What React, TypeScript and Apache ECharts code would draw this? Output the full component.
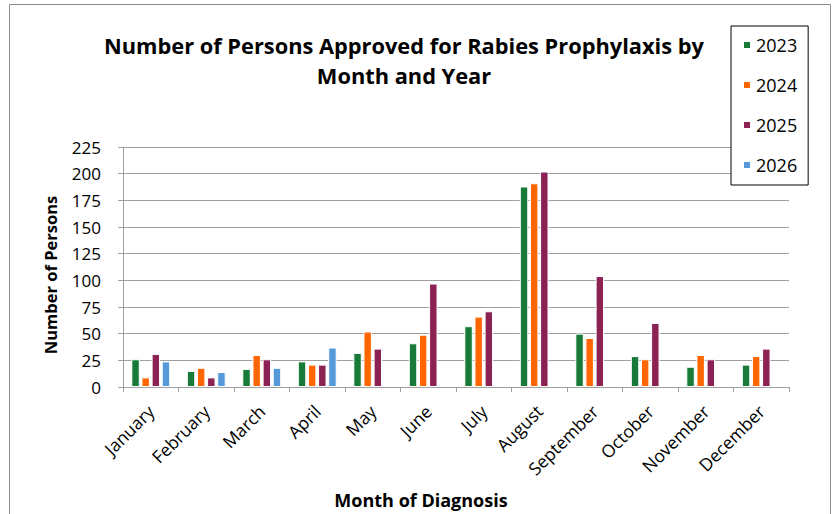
import React, { useEffect, useRef } from "react";
import * as echarts from "echarts";

const months = ["January", "February", "March", "April", "May", "June", "July", "August", "September", "October", "November", "December"];
const years = ["2023", "2024", "2025", "2026"];
const v2023 = [26, 15, 17, 24, 32, 41, 57, 188, 50, 29, 19, 21];
const v2024 = [9, 18, 30, 21, 52, 49, 66, 191, 46, 26, 30, 29];
const v2025 = [31, 9, 26, 21, 36, 97, 71, 202, 104, 60, 26, 36];
const v2026 = [24, 14, 18, 37, null, null, null, null, null, null, null, null];
const colors = ["#177A38", "#FF6600", "#8C2154", "#5599DB"];
const yTicks = { min: 0, max: 225, interval: 25 };

const FONT = "'Open Sans', 'Noto Sans', sans-serif";

export default function App() {
  const ref = useRef<HTMLDivElement>(null);
  useEffect(() => {
    document.body.style.margin = "0";
    const chart = echarts.init(ref.current!, null, { renderer: "svg" });
    const seriesData = [v2023, v2024, v2025, v2026];
    chart.setOption({
      animation: false,
      textStyle: { fontFamily: FONT },
      title: {
        text: "Number of Persons Approved for Rabies Prophylaxis by\nMonth and Year",
        left: 404,
        top: 30,
        textAlign: "center",
        padding: 0,
        textStyle: { fontFamily: FONT, fontSize: 21.8, fontWeight: "bold", color: "#000", lineHeight: 30 },
      },
      legend: {
        orient: "vertical",
        left: 731,
        top: 26,
        padding: [9, 11, 10, 11],
        itemGap: 20,
        itemWidth: 8,
        itemHeight: 8,
        borderColor: "#000",
        borderWidth: 1,
        backgroundColor: "#fff",
        icon: "rect",
        data: years,
        textStyle: { fontFamily: FONT, fontSize: 18, color: "#000", lineHeight: 20 },
      },
      grid: { left: 123, right: 47, top: 147, bottom: 127, containLabel: false },
      xAxis: {
        type: "category",
        data: months,
        axisLine: { lineStyle: { color: "#A0A0A0" } },
        axisTick: { show: true, length: 5, lineStyle: { color: "#A0A0A0" } },
        axisLabel: { rotate: 45, fontSize: 17.5, color: "#000", margin: 21, interval: 0, fontFamily: FONT },
      },
      yAxis: {
        type: "value",
        min: yTicks.min,
        max: yTicks.max,
        interval: yTicks.interval,
        axisLine: { show: true, lineStyle: { color: "#A0A0A0" } },
        axisTick: { show: true, length: 5, lineStyle: { color: "#A0A0A0" } },
        axisLabel: { fontSize: 17, color: "#000", margin: 22, fontFamily: FONT },
        splitLine: { lineStyle: { color: "#A0A0A0" } },
      },
      series: years.map((y, i) => ({
        name: y,
        type: "bar",
        data: seriesData[i],
        barCategoryGap: "30%",
        barGap: "20%",
        itemStyle: { color: colors[i], borderColor: "#fff", borderWidth: 1 },
      })),
      graphic: [
        {
          type: "rect",
          shape: { x: 9.5, y: 4.5, width: 821, height: 530 },
          style: { fill: "none", stroke: "#8C8C8C", lineWidth: 1 },
          z: -10,
        },
        {
          type: "text",
          x: 50,
          y: 275,
          rotation: Math.PI / 2,
          style: {
            text: "Number of Persons",
            font: `bold 16.5px ${FONT}`,
            fill: "#000",
            align: "center",
            verticalAlign: "middle",
          },
        },
        {
          type: "text",
          x: 421,
          y: 500,
          style: {
            text: "Month of Diagnosis",
            font: `bold 18px ${FONT}`,
            fill: "#000",
            align: "center",
            verticalAlign: "middle",
          },
        },
      ],
    });
    return () => chart.dispose();
  }, []);
  return <div ref={ref} style={{ position: "absolute", left: 0, top: 0, width: 836, height: 514 }} />;
}
